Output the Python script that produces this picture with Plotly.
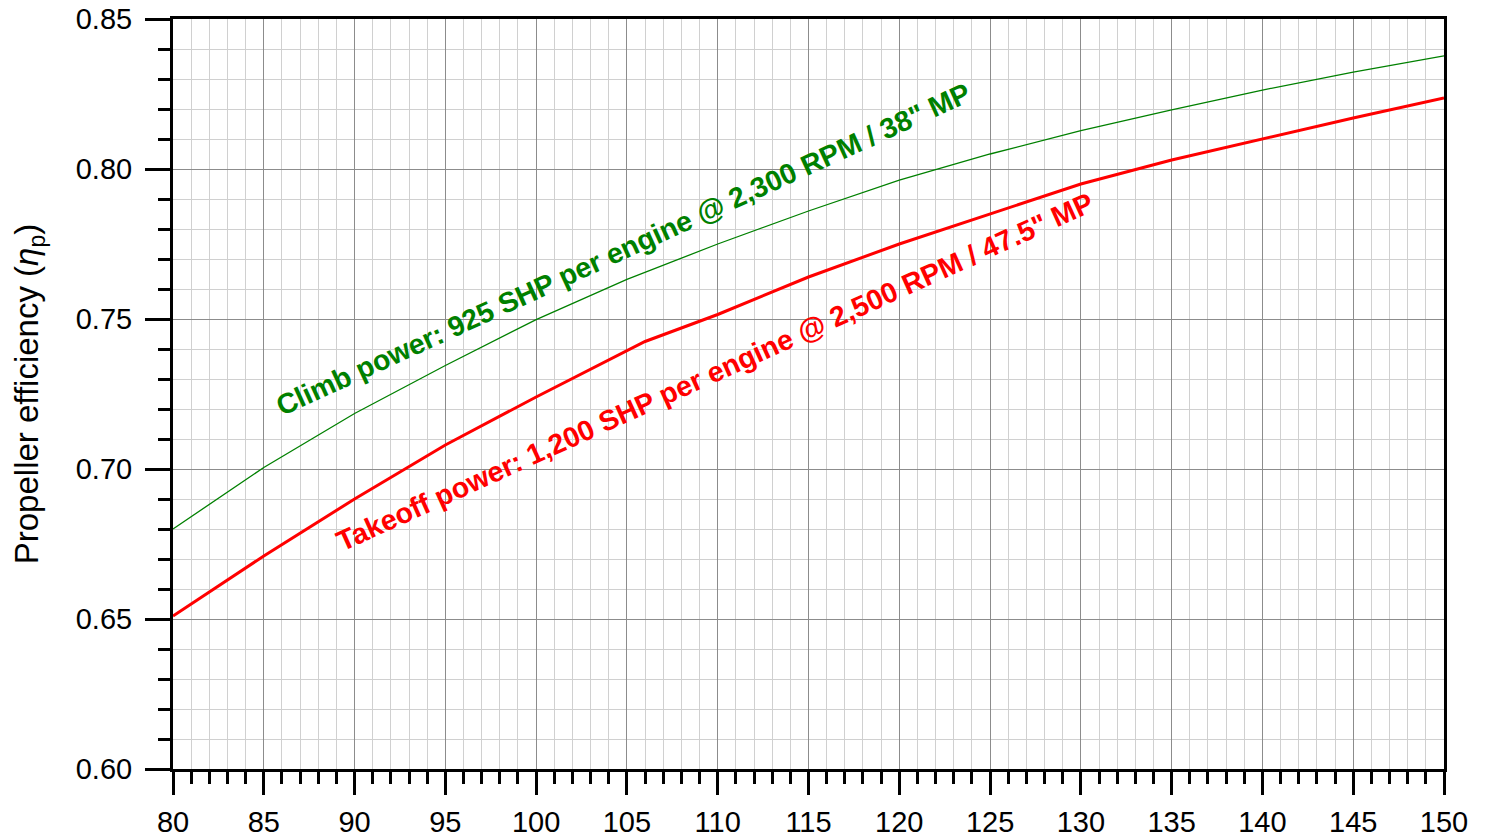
import plotly.graph_objects as go

# Airspeed (x) and propeller efficiency values
climb_x = [80, 85, 90, 95, 100, 105, 110, 115, 120, 125, 130, 135, 140, 145, 150]
climb_eta = [0.680, 0.7005, 0.7185, 0.7345, 0.7498, 0.7632, 0.775, 0.786, 0.7963,
             0.805, 0.8128, 0.8197, 0.8263, 0.8323, 0.8377]

takeoff_x = [80, 85, 90, 95, 100, 106, 110, 115, 120, 125, 130, 135, 140, 145, 150]
takeoff_eta = [0.651, 0.671, 0.690, 0.708, 0.724, 0.7425, 0.7515, 0.764, 0.775,
               0.785, 0.795, 0.803, 0.810, 0.817, 0.8237]

climb_label = 'Climb power: 925 SHP per engine @ 2,300 RPM / 38" MP'
takeoff_label = 'Takeoff power: 1,200 SHP per engine @ 2,500 RPM / 47.5" MP'

x_ticks = list(range(80, 151, 5))
y_ticks = [0.60, 0.65, 0.70, 0.75, 0.80, 0.85]
y_tick_text = ["%.2f" % v for v in y_ticks]

FONT = "Liberation Sans, Arial, sans-serif"

fig = go.Figure()
fig.add_trace(go.Scatter(x=climb_x, y=climb_eta, mode="lines",
                         line=dict(color="#008000", width=1.3), showlegend=False))
fig.add_trace(go.Scatter(x=takeoff_x, y=takeoff_eta, mode="lines",
                         line=dict(color="#FF0000", width=3), showlegend=False))

fig.add_annotation(x=104.8, y=0.7735, xref="x", yref="y", text=climb_label,
                   showarrow=False, textangle=-24.6,
                   font=dict(family=FONT, size=28.5, color="#008000", weight="bold"),
                   xanchor="center", yanchor="middle")
fig.add_annotation(x=109.8, y=0.7325, xref="x", yref="y", text=takeoff_label,
                   showarrow=False, textangle=-24.4,
                   font=dict(family=FONT, size=28.5, color="#FF0000", weight="bold"),
                   xanchor="center", yanchor="middle")

fig.update_xaxes(range=[80, 150], tickvals=x_ticks, ticktext=[str(v) for v in x_ticks],
                 ticks="outside", ticklen=23, tickwidth=2.5, tickcolor="black",
                 showline=True, linecolor="black", linewidth=3, mirror=True,
                 showgrid=True, gridcolor="#8c8c8c", gridwidth=1.3,
                 zeroline=False, ticklabelstandoff=2, automargin=False,
                 ticklabeloverflow="allow",
                 tickfont=dict(family=FONT, size=29, color="black"),
                 minor=dict(dtick=1, ticks="outside", ticklen=12, tickwidth=2.5,
                            tickcolor="black", showgrid=True, gridcolor="#d0d0d0",
                            gridwidth=1.2))
fig.update_yaxes(range=[0.60, 0.85], tickvals=y_ticks, ticktext=y_tick_text,
                 ticks="outside", ticklen=25, tickwidth=2.5, tickcolor="black",
                 showline=True, linecolor="black", linewidth=3, mirror=True,
                 showgrid=True, gridcolor="#8c8c8c", gridwidth=1.3,
                 zeroline=False, ticklabelstandoff=7, automargin=False,
                 ticklabeloverflow="allow",
                 tickfont=dict(family=FONT, size=29, color="black"),
                 title=dict(text="Propeller efficiency (<i>η</i><sub>p</sub>)",
                            font=dict(family=FONT, size=33, color="black"),
                            standoff=30),
                 minor=dict(dtick=0.01, ticks="outside", ticklen=12, tickwidth=2.5,
                            tickcolor="black", showgrid=True, gridcolor="#d0d0d0",
                            gridwidth=1.2))

# The page body adds an 8 px offset, so margins are compensated accordingly
fig.update_layout(width=1488, height=838, autosize=False,
                  margin=dict(l=165, r=52, t=11, b=77, pad=0),
                  plot_bgcolor="white", paper_bgcolor="white",
                  showlegend=False)

fig.write_html("out.html")
